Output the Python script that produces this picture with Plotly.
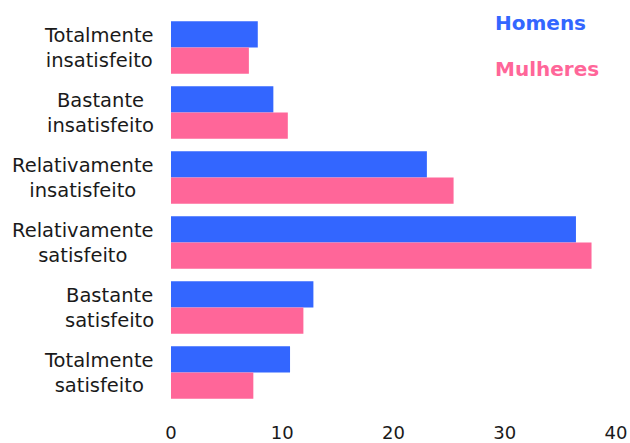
import plotly.graph_objects as go

categories = ["Totalmente<br>insatisfeito", "Bastante<br>insatisfeito", "Relativamente<br>insatisfeito",
              "Relativamente<br>satisfeito", "Bastante<br>satisfeito", "Totalmente<br>satisfeito"]
homens = [7.8, 9.2, 23.0, 36.4, 12.8, 10.7]
mulheres = [7.0, 10.5, 25.4, 37.8, 11.9, 7.4]
series_names = ["Homens", "Mulheres"]
x_ticks = [0, 10, 20, 30, 40]

BLUE = "#3366ff"
PINK = "#ff6699"
FONT = "DejaVu Sans"

W, H = 630, 443
L, R, T, B = 171, 14, 15, 38
PW = W - L - R
PH = H - T - B

fig = go.Figure()
fig.add_trace(go.Bar(y=categories, x=homens, orientation="h", name=series_names[0],
                     marker=dict(color=BLUE, line=dict(width=0))))
fig.add_trace(go.Bar(y=categories, x=mulheres, orientation="h", name=series_names[1],
                     marker=dict(color=PINK, line=dict(width=0))))

annotations = []
for c in categories:
    annotations.append(dict(x=0, xref="paper", y=c, yref="y", text=c, showarrow=False,
                            xanchor="right", yanchor="middle", align="center", xshift=-15,
                            font=dict(family=FONT, size=19.5, color="#1a1a1a")))

for name, color, ypix in [(series_names[0], BLUE, 23), (series_names[1], PINK, 69)]:
    annotations.append(dict(x=(493 - L) / PW, xref="paper", y=1 - (ypix - T) / PH, yref="paper",
                            text="<b>" + name + "</b>", showarrow=False,
                            xanchor="left", yanchor="middle",
                            font=dict(family=FONT, size=20, color=color)))

fig.update_layout(
    width=W, height=H,
    margin=dict(l=L, r=R, t=T, b=B, autoexpand=False),
    barmode="group", bargap=0.19, bargroupgap=0,
    plot_bgcolor="white", paper_bgcolor="white",
    showlegend=False,
    font=dict(family=FONT, size=18, color="#1a1a1a"),
    xaxis=dict(range=[0, 40], tickvals=x_ticks, showgrid=False, zeroline=False, automargin=False,
               showline=False, ticks="", ticklabelstandoff=15, ticklabeloverflow="allow",
               tickfont=dict(size=18, color="#1a1a1a")),
    yaxis=dict(autorange="reversed", showticklabels=False, showgrid=False, automargin=False,
               zeroline=False, showline=False, ticks=""),
    annotations=annotations,
)
fig.write_html("out.html", config={"displayModeBar": False},
               post_script="document.body.style.margin='0';document.body.style.overflow='hidden';")
